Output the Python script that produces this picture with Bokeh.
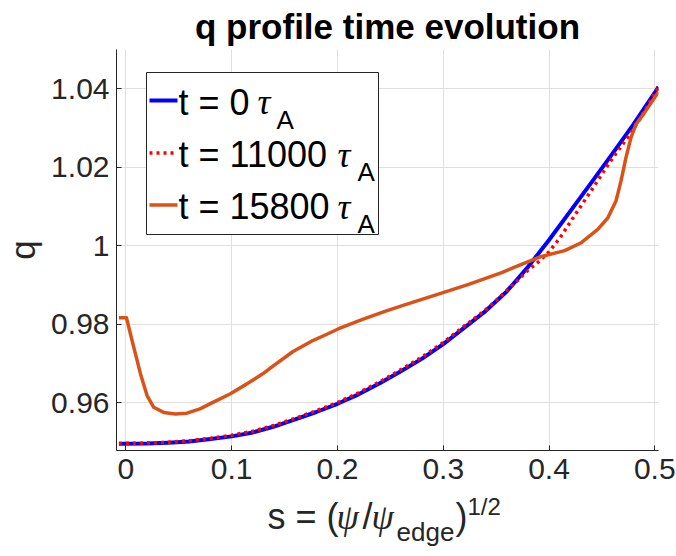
from bokeh.plotting import figure
from bokeh.layouts import column
from bokeh.models import FixedTicker, Label, BoxAnnotation, Arrow, Range1d
from bokeh.embed import file_html
from bokeh.resources import INLINE

# ---------------- data ----------------
s_t0 = [-0.0066, 0.02, 0.04, 0.06, 0.08, 0.10, 0.12, 0.14, 0.16, 0.18, 0.20,
        0.22, 0.24, 0.26, 0.28, 0.30, 0.32, 0.34, 0.36, 0.38, 0.40, 0.42,
        0.44, 0.46, 0.48, 0.50, 0.5035]
q_t0 = [0.9496, 0.9497, 0.9499, 0.9502, 0.9508, 0.9515, 0.9525, 0.9540,
        0.9558, 0.9577, 0.9598, 0.9622, 0.9650, 0.9681, 0.9713, 0.9750,
        0.9792, 0.9834, 0.9884, 0.9946, 1.0015, 1.0088, 1.0161, 1.0235,
        1.0310, 1.0390, 1.0405]

s_t11000 = [-0.0066, 0.02, 0.04, 0.06, 0.08, 0.10, 0.12, 0.14, 0.16, 0.18,
            0.20, 0.22, 0.24, 0.26, 0.28, 0.30, 0.32, 0.34, 0.36, 0.37, 0.38,
            0.39, 0.40, 0.41, 0.42, 0.43, 0.44, 0.45, 0.46, 0.47, 0.48, 0.49,
            0.50, 0.5035]
q_t11000 = [0.9497, 0.9498, 0.9500, 0.9504, 0.9510, 0.9518, 0.9528, 0.9543,
            0.9561, 0.9580, 0.9601, 0.9626, 0.9654, 0.9685, 0.9717, 0.9754,
            0.9796, 0.9837, 0.9886, 0.9911, 0.9938, 0.9959, 0.9985, 1.0019,
            1.0060, 1.0101, 1.0141, 1.0183, 1.0223, 1.0260, 1.0298, 1.0342,
            1.0388, 1.0403]

s_t15800 = [-0.0066, 0.0005, 0.0075, 0.0138, 0.020, 0.0263, 0.0357, 0.0467,
            0.0576, 0.070, 0.0827, 0.0984, 0.114, 0.1297, 0.139, 0.158,
            0.1767, 0.19, 0.2011, 0.2237, 0.2456, 0.2613, 0.2998, 0.324,
            0.3553, 0.374, 0.3929, 0.4148, 0.4305, 0.4461, 0.4555, 0.4633,
            0.468, 0.4727, 0.4774, 0.4821, 0.49, 0.5035]
q_t15800 = [0.9817, 0.9817, 0.9741, 0.9674, 0.9619, 0.9589, 0.9576, 0.9572,
            0.9574, 0.9585, 0.9602, 0.9623, 0.9648, 0.9675, 0.9694, 0.9731,
            0.9759, 0.9775, 0.9789, 0.9813, 0.9834, 0.9848, 0.9881, 0.9902,
            0.9932, 0.9953, 0.9973, 0.9988, 1.0008, 1.0042, 1.0071, 1.0114,
            1.0165, 1.0224, 1.0275, 1.0309, 1.0338, 1.0392]

x_ticks = [0, 0.1, 0.2, 0.3, 0.4, 0.5]
x_tick_labels = ["0", "0.1", "0.2", "0.3", "0.4", "0.5"]
y_ticks = [0.96, 0.98, 1.0, 1.02, 1.04]
y_tick_labels = ["0.96", "0.98", "1", "1.02", "1.04"]

series_labels = ["t = 0", "t = 11000", "t = 15800"]
series_colors = ["#0000ff", "#ff0000", "#d95319"]
title_text = "q profile time evolution"
y_label = "q"

# ---------------- main figure ----------------
SANS = "Liberation Sans"
SERIF = "Liberation Serif"
AX = "#262626"

W = 676
H_MAIN = 492
H_XLAB = 64
BL, BR = 113, 18   # left / right borders shared by both figures

p = figure(width=W, height=H_MAIN,
           x_range=Range1d(-0.0089, 0.5035), y_range=Range1d(0.9479, 1.05),
           output_backend="svg", toolbar_location=None,
           min_border_left=BL, min_border_right=BR,
           min_border_top=48, min_border_bottom=H_MAIN - 450)
p.outline_line_color = None
p.background_fill_color = "white"
p.border_fill_color = "white"

p.title.text = title_text
p.title.text_font = SANS
p.title.text_font_size = "35px"
p.title.text_font_style = "bold"
p.title.text_color = "black"
p.title.align = "center"
p.title.standoff = 8

p.xaxis.ticker = FixedTicker(ticks=x_ticks)
p.yaxis.ticker = FixedTicker(ticks=y_ticks)
p.xaxis.major_label_overrides = dict(zip(x_ticks, x_tick_labels))
p.yaxis.major_label_overrides = dict(zip(y_ticks, y_tick_labels))
p.xgrid.ticker = p.xaxis[0].ticker
p.ygrid.ticker = p.yaxis[0].ticker

for ax in (p.xaxis[0], p.yaxis[0]):
    ax.axis_line_color = AX
    ax.axis_line_width = 1
    ax.major_tick_line_color = AX
    ax.major_tick_in = 5
    ax.major_tick_out = 0
    ax.minor_tick_line_color = None
    ax.major_label_text_font = SANS
    ax.major_label_text_font_size = "30px"
    ax.major_label_text_color = AX
p.xaxis.major_label_standoff = 8
p.yaxis.major_label_standoff = 7

p.yaxis.axis_label = y_label
p.yaxis.axis_label_text_font = SANS
p.yaxis.axis_label_text_font_size = "35px"
p.yaxis.axis_label_text_font_style = "normal"
p.yaxis.axis_label_text_color = AX
p.yaxis.axis_label_standoff = 6

for g in (p.xgrid[0], p.ygrid[0]):
    g.grid_line_color = "#dfdfdf"
    g.grid_line_width = 1

# ---------------- curves ----------------
p.line(s_t0, q_t0, line_color=series_colors[0], line_width=4, line_join="round")
p.line(s_t11000, q_t11000, line_color=series_colors[1], line_width=3.5,
       line_dash="3 4", line_cap="butt")
p.line(s_t15800, q_t15800, line_color=series_colors[2], line_width=3.5,
       line_join="round")

# reference pixel -> frame screen coordinates (frame left 113, bottom 450)
FB = 450
def fx(X):
    return X - BL
def fy(Y):
    return FB - Y

# ---------------- legend (hand-built for the tau_A subscripts) ----------
p.add_layout(BoxAnnotation(left=fx(143), right=fx(375), top=fy(72), bottom=fy(234),
                           left_units="screen", right_units="screen",
                           top_units="screen", bottom_units="screen",
                           fill_color="white", fill_alpha=1.0,
                           line_color=AX, line_alpha=1.0, line_width=1))

base_y = [101.5, 154.0, 206.0]
tau_x = [254, 334, 334]
sub_x = [273, 354, 354]
widths = [4, 3.5, 3.5]
dashes = ["solid", "3 4", "solid"]
for i in range(3):
    p.add_layout(Arrow(end=None, x_start=fx(146), y_start=fy(base_y[i] - 1.5),
                       x_end=fx(174), y_end=fy(base_y[i] - 1.5),
                       start_units="screen", end_units="screen",
                       line_color=series_colors[i], line_width=widths[i],
                       line_dash=dashes[i], line_cap="butt"))
    p.add_layout(Label(x=fx(175), y=fy(base_y[i]), x_units="screen", y_units="screen",
                       text=series_labels[i], text_font=SANS, text_font_size="36px",
                       text_color="black", text_baseline="alphabetic"))
    p.add_layout(Label(x=fx(tau_x[i]), y=fy(base_y[i]), x_units="screen", y_units="screen",
                       text="τ", text_font=SERIF, text_font_style="italic",
                       text_font_size="36px", text_color="black",
                       text_baseline="alphabetic"))
    p.add_layout(Label(x=fx(sub_x[i]), y=fy(base_y[i] + 17.5), x_units="screen",
                       y_units="screen", text="A", text_font=SANS,
                       text_font_size="26px", text_color="black",
                       text_baseline="alphabetic"))

# ---------------- x-axis label strip (own small figure, real text) -------
px = figure(width=W, height=H_XLAB, x_range=Range1d(0, 1), y_range=Range1d(0, 1),
            output_backend="svg", toolbar_location=None, title=None,
            x_axis_type=None, y_axis_type=None,
            min_border_left=BL, min_border_right=BR,
            min_border_top=0, min_border_bottom=0)
px.outline_line_color = None
px.xgrid.visible = False
px.ygrid.visible = False
px.background_fill_color = "white"
px.border_fill_color = "white"

STRIP_BOTTOM = H_MAIN + H_XLAB + 12   # empirically measured bottom of the strip frame
xlab_parts = [
    ("s = (", SANS, "normal", "36px", 264, 528.3),
    ("ψ", SERIF, "italic", "36px", 333, 528.3),
    ("/", SANS, "normal", "36px", 359, 528.3),
    ("ψ", SERIF, "italic", "36px", 368, 528.3),
    ("edge", SANS, "normal", "26px", 393, 543.3),
    (")", SANS, "normal", "36px", 452, 528.3),
    ("1/2", SANS, "normal", "24px", 464, 517.5),
]
for txt, font, style, size, X, Y in xlab_parts:
    px.add_layout(Label(x=X - BL, y=STRIP_BOTTOM - Y, x_units="screen", y_units="screen",
                        text=txt, text_font=font, text_font_style=style,
                        text_font_size=size, text_color=AX,
                        text_baseline="alphabetic"))

layout = column(p, px, spacing=0)
open("out.html", "w").write(file_html(layout, INLINE))
